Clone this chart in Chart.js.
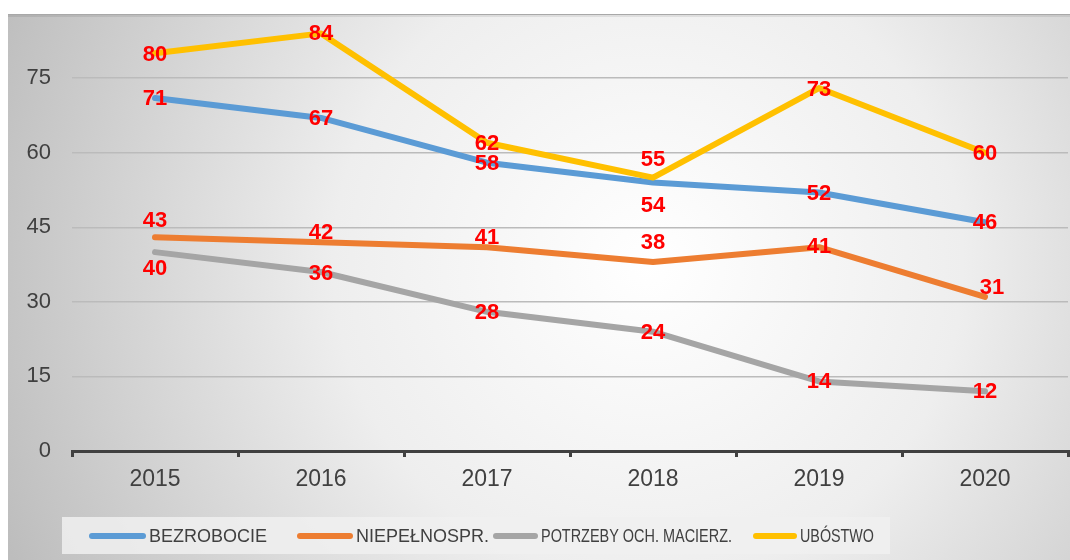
<!DOCTYPE html>
<html>
<head>
<meta charset="utf-8">
<script src="https://cdn.jsdelivr.net/npm/chart.js"></script>
<style>
html,body{margin:0;padding:0;background:#fff;}
#wrap{position:absolute;left:8px;top:14px;width:1062px;height:546px;}
</style>
</head>
<body>
<div id="wrap"><canvas id="myChart" width="1062" height="546"></canvas></div>
<script>
// values
const years=['2015','2016','2017','2018','2019','2020']
const bezrobocie=[71,67,58,54,52,46]
const niepelnospr=[43,42,41,38,41,31]
const macierz=[40,36,28,24,14,12]
const ubostwo=[80,84,62,55,73,60]
const seriesNames=['BEZROBOCIE','NIEPEŁNOSPR.','POTRZEBY OCH. MACIERZ.','UBÓSTWO']
const seriesColors=['#5B9BD5','#ED7D31','#A5A5A5','#FFC000']

// where each red value label sits relative to its point
const labelShift=[
    [[0,0],[0,0],[0,0],[0,22],[0,0],[0,0]],
    [[0,-17],[0,-10],[0,-10],[0,-20],[0,-1],[7,-10]],
    [[0,16],[0,1],[0,0],[0,0],[0,0],[0,0]],
    [[0,1],[0,0],[0,0],[0,-19],[0,1],[0,0]]
]

// legend layout (canvas px): line start, line end, text width
const legendLayout=[[81,138,120],[289,345,137],[485,530,191],[745,789,74]]

const font='"Liberation Sans", Arial, sans-serif'

const background={
    id:'background',
    beforeDraw(chart){
        const ctx=chart.ctx
        ctx.save()
        const g=ctx.createRadialGradient(640,250,0,640,250,700)
        g.addColorStop(0,'#ffffff')
        g.addColorStop(0.45,'#eeeeee')
        g.addColorStop(1,'#bdbdbd')
        ctx.fillStyle=g
        ctx.fillRect(0,0,chart.width,chart.height)
        ctx.fillStyle='#a8a8a8'
        ctx.fillRect(0,0,chart.width,1)
        ctx.fillStyle='rgba(0,0,0,0.08)'
        ctx.fillRect(0,1,chart.width,2)
        ctx.restore()
    }
}

const valueLabels={
    id:'valueLabels',
    afterDatasetsDraw(chart){
        const ctx=chart.ctx
        ctx.save()
        ctx.font='bold 22px '+font
        ctx.fillStyle='#FF0000'
        ctx.textAlign='center'
        ctx.textBaseline='middle'
        chart.data.datasets.forEach((ds,i)=>{
            const meta=chart.getDatasetMeta(i)
            meta.data.forEach((pt,j)=>{
                const s=labelShift[i][j]
                ctx.fillText(ds.data[j],pt.x+s[0],pt.y+s[1]+1)
            })
        })
        ctx.restore()
    }
}

const legendBox={
    id:'legendBox',
    afterDraw(chart){
        const ctx=chart.ctx
        ctx.save()
        ctx.fillStyle='rgba(240,240,240,0.85)'
        ctx.fillRect(54,503,828,37)
        ctx.font='18px '+font
        ctx.textBaseline='middle'
        const y=522
        chart.data.datasets.forEach((ds,i)=>{
            const l=legendLayout[i]
            ctx.strokeStyle=ds.borderColor
            ctx.lineWidth=6
            ctx.lineCap='round'
            ctx.beginPath()
            ctx.moveTo(l[0]+3,y)
            ctx.lineTo(l[1]-3,y)
            ctx.stroke()
            ctx.fillStyle='#404040'
            ctx.fillText(ds.label,l[1]+3,y+1,l[2])
        })
        ctx.restore()
    }
}

const allData=[bezrobocie,niepelnospr,macierz,ubostwo]
const datasets=allData.map((d,i)=>({
    label:seriesNames[i],
    data:d,
    borderColor:seriesColors[i],
    backgroundColor:seriesColors[i],
    borderWidth:6,
    borderCapStyle:'round',
    borderJoinStyle:'round',
    pointRadius:0,
    pointHoverRadius:0,
    tension:0,
    fill:false,
    order:4-i
}))

const ctx=document.getElementById('myChart')
const myChart=new Chart(ctx,{
    type:'line',
    data:{labels:years,datasets:datasets},
    options:{
        responsive:false,
        animation:false,
        layout:{padding:{top:0,right:2,bottom:59,left:0}},
        plugins:{legend:{display:false},tooltip:{enabled:false}},
        scales:{
            x:{
                offset:true,
                grid:{display:true,drawOnChartArea:false,drawTicks:true,tickLength:6,color:'#404040',lineWidth:3,offset:true},
                border:{display:true,color:'#404040',width:3},
                ticks:{color:'#404040',font:{family:font,size:23},padding:9},
                afterFit(scale){scale.height=50}
            },
            y:{
                min:0,
                max:87.9,
                grid:{color:'#bbbbbb',lineWidth:1.5,drawTicks:false},
                border:{display:false},
                ticks:{stepSize:15,includeBounds:false,color:'#404040',font:{family:font,size:22},padding:21},
                afterFit(scale){scale.width=64;scale.paddingTop=0;scale.paddingBottom=0}
            }
        }
    },
    plugins:[background,valueLabels,legendBox]
})
</script>
</body>
</html>
